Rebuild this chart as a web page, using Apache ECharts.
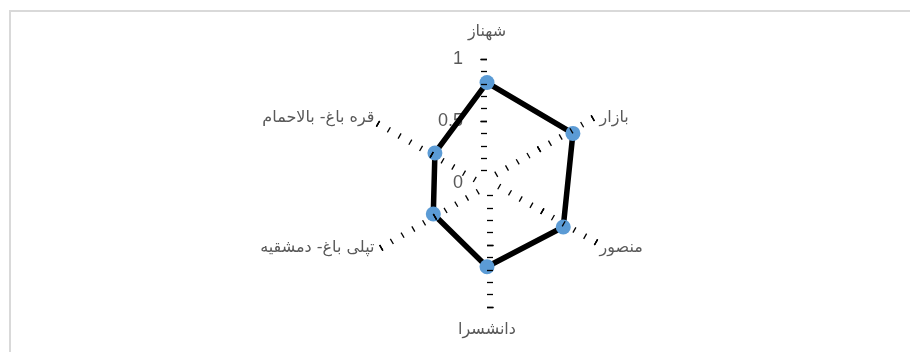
<!DOCTYPE html>
<html>
<head>
<meta charset="utf-8">
<script src="https://cdn.jsdelivr.net/npm/echarts@6/dist/echarts.min.js"></script>
<style>
  html, body { margin: 0; padding: 0; background: #fff; }
  #wrap { position: relative; width: 910px; height: 352px; overflow: hidden; }
  #frame { position: absolute; left: 9px; top: 10px; width: 960px; height: 400px;
           border-left: 2px solid #d9d9d9; border-top: 2px solid #d9d9d9; }
  #chart { position: absolute; left: 0; top: 0; width: 910px; height: 352px; }
</style>
</head>
<body>
<div id="wrap">
  <div id="frame"></div>
  <div id="chart"></div>
</div>
<script>
// indicators listed counter-clockwise from the top (ECharts radar order)
const categories = ["شهناز", "قره باغ- بالاحمام", "تپلی باغ- دمشقیه", "دانشسرا", "منصور", "بازار"];
const values = [0.81, 0.485, 0.50, 0.675, 0.71, 0.80];
const tickLabels = [0, 0.5, 1];

const center = [487, 183];
const R = 124;
const nameFont = "DejaVu Sans";

const chart = echarts.init(document.getElementById("chart"));

function tickRadar(min, innerR, splitNumber, len, inside, showName) {
  return {
    center: center,
    radius: [innerR, R],
    startAngle: 90,
    splitNumber: splitNumber,
    shape: "polygon",
    z: 5,
    indicator: categories.map(function (c) {
      return { name: c, min: min, max: 1 };
    }),
    axisName: {
      show: showName,
      color: "#595959",
      fontSize: 16,
      fontFamily: nameFont,
      padding: [9, 0, 13, 0]
    },
    nameGap: 6,
    axisLine: { show: false },
    splitLine: { show: false },
    splitArea: { show: false },
    axisTick: {
      show: true,
      length: len,
      inside: inside,
      lineStyle: { color: "#000", width: 1.3 }
    },
    axisLabel: { show: false }
  };
}

const option = {
  animation: false,
  backgroundColor: "transparent",
  radar: [
    tickRadar(0.1, R * 0.1, 9, 6, false, true),
    tickRadar(0.5, R * 0.5, 1, 6.5, false, false),
    tickRadar(0.5, R * 0.5, 1, 6.5, true, false)
  ],
  polar: { center: center, radius: R },
  angleAxis: { show: false, startAngle: 90, min: 0, max: 360 },
  radiusAxis: {
    type: "value",
    min: 0,
    max: 1,
    interval: 0.5,
    axisLine: { show: false },
    axisTick: { show: false },
    splitLine: { show: false },
    axisLabel: {
      show: true,
      margin: 24,
      color: "#595959",
      fontSize: 18,
      fontFamily: "Liberation Sans",
      formatter: function (v) {
        return tickLabels.indexOf(v) >= 0 ? String(v) : "";
      }
    }
  },
  series: [
    {
      type: "radar",
      radarIndex: 0,
      z: 2,
      symbol: "circle",
      symbolSize: 15,
      lineStyle: { color: "#000", width: 5.5 },
      itemStyle: { color: "#5B9BD5" },
      data: [{ value: values }]
    }
  ]
};

chart.setOption(option);
</script>
</body>
</html>
